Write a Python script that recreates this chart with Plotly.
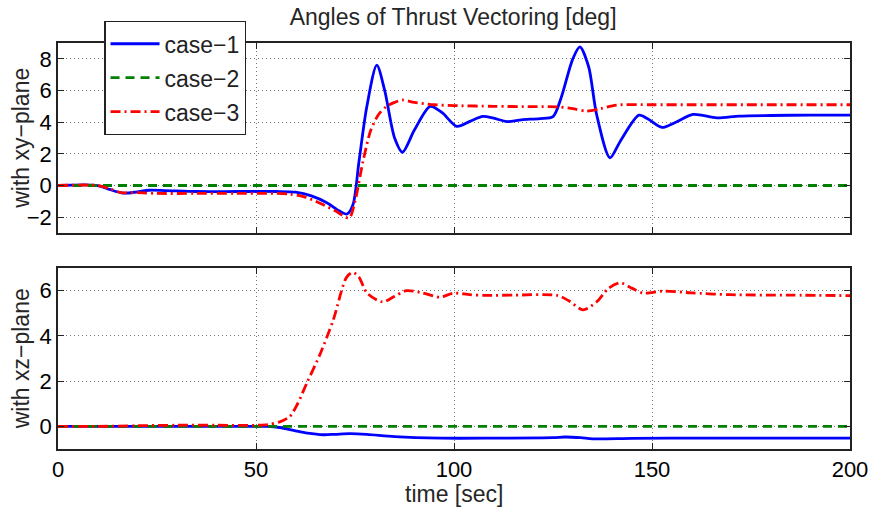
import plotly.graph_objects as go

# ---- data ----
t_c1_xy = [0, 10, 13, 16.5, 20, 23, 27, 35, 45, 55, 60, 64, 68, 71, 73, 74.5, 76, 78, 80.5, 82.5, 85, 87, 90, 94,
           97, 100.7, 104, 107.3, 110, 113.4, 117, 121.7, 125, 127, 130, 131.8, 134, 136, 139.4, 142, 146.7, 149,
           152.5, 156, 160.4, 166.4, 172, 180, 190, 200]
y_c1_xy = [0, 0, -0.25, -0.48, -0.4, -0.3, -0.32, -0.38, -0.38, -0.38, -0.42, -0.65, -1.1, -1.6, -1.8, -1.2, 1.5,
           5.0, 7.6, 6.0, 3.0, 2.1, 3.5, 5.0, 4.6, 3.74, 4.05, 4.36, 4.25, 4.04, 4.15, 4.23, 4.35, 5.5, 8.0, 8.75,
           7.5, 4.5, 1.75, 2.8, 4.44, 4.2, 3.67, 4.0, 4.49, 4.27, 4.38, 4.42, 4.45, 4.45]

t_c3_xy = [0, 10, 13, 16, 20, 25, 35, 45, 55, 58.6, 62, 66, 70, 73.5, 75, 77, 79, 81, 83, 85, 87, 90, 95, 100,
           110, 120, 126, 130, 133.5, 137, 141, 150, 160, 180, 200]
y_c3_xy = [0, 0, -0.2, -0.45, -0.45, -0.5, -0.5, -0.5, -0.5, -0.55, -0.7, -1.1, -1.6, -2.05, -1.0, 1.5, 3.5, 4.5,
           5.0, 5.25, 5.4, 5.25, 5.1, 5.05, 5.0, 4.98, 4.97, 4.85, 4.7, 4.85, 5.08, 5.1, 5.1, 5.1, 5.1]

t_c2 = [0, 200]
y_c2 = [0, 0]

t_c1_xz = [0, 50, 52.7, 56, 60, 63, 67, 70, 73.7, 78, 85, 96.5, 110, 125, 128, 132, 135, 145, 160, 200]
y_c1_xz = [0, 0, 0, -0.05, -0.2, -0.3, -0.37, -0.35, -0.32, -0.35, -0.45, -0.52, -0.52, -0.5, -0.47, -0.5,
           -0.55, -0.53, -0.52, -0.52]

t_c3_xz = [0, 10, 20, 30, 40, 50, 53, 56, 58.6, 60.5, 62.8, 66.2, 69.5, 72.9, 74.5, 76, 78, 82, 85, 88, 92, 96.5,
           99.8, 104, 108.2, 115, 126, 129, 132.6, 136, 139, 142, 145, 147.8, 152.9, 160, 169.7, 185, 200]
y_c3_xz = [0, 0, 0.03, 0.05, 0.05, 0.05, 0.08, 0.2, 0.45, 1.0, 1.9, 3.2, 4.7, 6.6, 6.8, 6.6, 5.9, 5.5, 5.75,
           6.0, 5.9, 5.71, 5.89, 5.82, 5.79, 5.8, 5.79, 5.55, 5.15, 5.5, 6.1, 6.34, 6.1, 5.89, 5.98, 5.9, 5.82,
           5.8, 5.78]

x_ticks = [0, 50, 100, 150, 200]
y_ticks_xy = [-2, 0, 2, 4, 6, 8]
y_ticks_xz = [0, 2, 4, 6]

FONT = "Liberation Sans, Arial, sans-serif"
BLUE, GREEN, RED = "#0000ff", "#008000", "#ff0000"
LW = 2.8
DASH_RED = "10px,4px,2px,4px"
DASH_GREEN = "9px,6px"

fig = go.Figure()

fig.add_trace(go.Scatter(x=t_c1_xy, y=y_c1_xy, mode="lines", name="case−1", legendgroup="a",
                         line=dict(color=BLUE, width=LW, shape="spline", smoothing=0.8), xaxis="x", yaxis="y"))
fig.add_trace(go.Scatter(x=t_c2, y=y_c2, mode="lines", name="case−2", legendgroup="b",
                         line=dict(color=GREEN, width=LW, dash=DASH_GREEN), xaxis="x", yaxis="y"))
fig.add_trace(go.Scatter(x=t_c3_xy, y=y_c3_xy, mode="lines", name="case−3", legendgroup="c",
                         line=dict(color=RED, width=LW, dash=DASH_RED, shape="spline", smoothing=0.8),
                         xaxis="x", yaxis="y"))

fig.add_trace(go.Scatter(x=t_c1_xz, y=y_c1_xz, mode="lines", name="case−1", legendgroup="a", showlegend=False,
                         line=dict(color=BLUE, width=LW, shape="spline", smoothing=0.8), xaxis="x2", yaxis="y2"))
fig.add_trace(go.Scatter(x=t_c2, y=y_c2, mode="lines", name="case−2", legendgroup="b", showlegend=False,
                         line=dict(color=GREEN, width=LW, dash=DASH_GREEN), xaxis="x2", yaxis="y2"))
fig.add_trace(go.Scatter(x=t_c3_xz, y=y_c3_xz, mode="lines", name="case−3", legendgroup="c", showlegend=False,
                         line=dict(color=RED, width=LW, dash=DASH_RED, shape="spline", smoothing=0.8),
                         xaxis="x2", yaxis="y2"))

axis_common = dict(showline=True, linecolor="#222", linewidth=1.5, mirror="ticks", ticks="inside",
                   ticklen=6, tickcolor="#222", showgrid=True, gridcolor="#777", griddash="1px,3px",
                   gridwidth=1, zeroline=False, automargin=False,
                   tickfont=dict(family=FONT, size=22, color="black"))

TOP_DOM = [0.532, 1.0]
BOT_DOM = [0.0, 0.4458]

fig.update_layout(
    xaxis=dict(**axis_common, range=[0, 200], tickvals=x_ticks, showticklabels=False, anchor="y", domain=[0, 1]),
    yaxis=dict(**axis_common, range=[-3, 9], tickvals=y_ticks_xy, anchor="x", domain=TOP_DOM),
    xaxis2=dict(**axis_common, range=[0, 200], tickvals=x_ticks, anchor="y2", domain=[0, 1]),
    yaxis2=dict(**axis_common, range=[-1, 7], tickvals=y_ticks_xz, anchor="x2", domain=BOT_DOM),
)

TFONT = dict(family=FONT, size=23, color="#262626")
fig.update_layout(
    width=873, height=508,
    margin=dict(l=58, r=23, t=43, b=59),
    paper_bgcolor="white", plot_bgcolor="white",
    title=dict(text="Angles of Thrust Vectoring [deg]", x=0.519, xanchor="center", y=0.966, yanchor="middle",
               font=TFONT),
    legend=dict(x=0.0585, y=1.054, xanchor="left", yanchor="top", bgcolor="white", bordercolor="#222",
                borderwidth=1.2, font=dict(family=FONT, size=23, color="#222"), tracegroupgap=1,
                traceorder="grouped", itemwidth=49),
    annotations=[
        dict(text="with xy−plane", xref="paper", yref="paper", x=-0.047, y=sum(TOP_DOM) / 2, xanchor="center",
             yanchor="middle", textangle=-90, showarrow=False, font=TFONT),
        dict(text="with xz−plane", xref="paper", yref="paper", x=-0.047, y=sum(BOT_DOM) / 2, xanchor="center",
             yanchor="middle", textangle=-90, showarrow=False, font=TFONT),
        dict(text="time [sec]", xref="paper", yref="paper", x=0.5, y=-0.11, xanchor="center",
             yanchor="middle", showarrow=False, font=TFONT),
    ],
)

fig.write_html("out.html", config={"displayModeBar": False},
               post_script="document.body.style.margin='0';document.body.style.overflow='hidden';")
